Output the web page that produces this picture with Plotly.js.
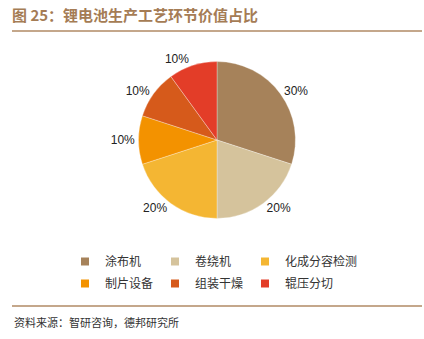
<!DOCTYPE html>
<html><head><meta charset="utf-8">
<script src="https://cdn.plot.ly/plotly-3.0.1.min.js"></script>
<style>html,body{margin:0;padding:0;background:#fff}#c{width:424px;height:339px}</style>
</head><body><div id="c"></div>
<script>
const categories = ['涂布机','卷绕机','化成分容检测','制片设备','组装干燥','辊压分切'];
const shares = [30,20,20,10,10,10];
const colors = ['#a6825a','#d5c39c','#f4b633','#f39200','#d65a1b','#e33d28'];
const titleText = '图 25：锂电池生产工艺环节价值占比';
const sourceText = '资料来源：智研咨询，德邦研究所';

const W=424,H=339,M={l:40,r:44,t:50,b:40};
const pw=W-M.l-M.r, ph=H-M.t-M.b;
const px=x=>(x-M.l)/pw, py=y=>(H-M.b-y)/ph;
const cjk='"Noto Sans CJK SC", "Noto Sans", sans-serif';
const cy=py(140), cx=px(217);

const traces=[{
  type:'pie', labels:categories, values:shares, sort:false, direction:'clockwise', rotation:0,
  marker:{colors:colors,line:{width:0.5,color:'rgba(255,255,255,0.6)'}}, showlegend:false,
  textinfo:'percent', textposition:'outside',
  textfont:{family:'"Liberation Sans", Arial, sans-serif',size:12,color:'#222'},
  domain:{x:[cx-0.45,cx+0.45],y:[cy-0.315,cy+0.315]}, hoverinfo:'none'
}];
// legend entries: 3 columns x 2 rows, one legend per column
const legendIds=['legend','legend2','legend3'];
categories.forEach((c,i)=>{
  traces.push({type:'scatter',mode:'markers',x:[null],y:[null],name:c,legendgroup:c,
    legend:legendIds[i%3],showlegend:true,
    marker:{symbol:'square',size:8,color:colors[i]},hoverinfo:'none'});
});
const legBase={orientation:'v',xanchor:'left',y:py(247),yanchor:'top',tracegroupgap:3,
  font:{family:cjk,size:12,color:'#333'},bgcolor:'rgba(0,0,0,0)',itemwidth:30};

Plotly.newPlot('c',traces,{
  width:W,height:H,margin:M,paper_bgcolor:'#fff',plot_bgcolor:'#fff',
  xaxis:{visible:false},yaxis:{visible:false},
  title:{text:'<b>'+titleText+'</b>',x:12/W,xanchor:'left',xref:'container',y:1-16/H,yanchor:'middle',yref:'container',
    font:{family:cjk,size:15,color:'#a57c55'}},
  showlegend:true,
  legend:Object.assign({},legBase,{x:px(65)}),
  legend2:Object.assign({},legBase,{x:px(155)}),
  legend3:Object.assign({},legBase,{x:px(245)}),
  shapes:[
    {type:'line',xref:'paper',yref:'paper',x0:px(12),x1:px(422),y0:py(31),y1:py(31),line:{color:'#b08a65',width:1.5}},
    {type:'line',xref:'paper',yref:'paper',x0:px(12),x1:px(422),y0:py(306),y1:py(306),line:{color:'#b08a65',width:1.5}}
  ],
  annotations:[{text:sourceText,xref:'paper',yref:'paper',x:px(12),y:py(322),xanchor:'left',yanchor:'middle',showarrow:false,
    font:{family:cjk,size:11,color:'#333'}}]
},{staticPlot:true});
</script></body></html>
